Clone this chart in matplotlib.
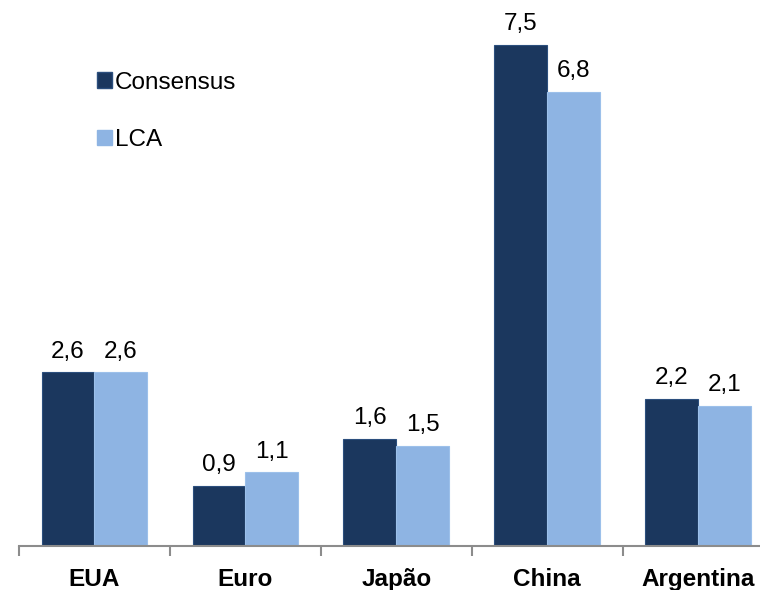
import numpy as np
import matplotlib
matplotlib.use("Agg")
import matplotlib.pyplot as plt
from matplotlib.patches import Patch

plt.rcParams["font.family"] = ["Liberation Sans", "DejaVu Sans"]

# Categories and the two series
categories = ["EUA", "Euro", "Japão", "China", "Argentina"]
consensus = [2.6, 0.9, 1.6, 7.5, 2.2]
lca = [2.6, 1.1, 1.5, 6.8, 2.1]
series_names = ["Consensus", "LCA"]

DARK = "#1b375e"
LIGHT = "#8eb4e3"
FS = 17.5

fig = plt.figure(figsize=(7.6, 5.9), dpi=100)
ax = fig.add_axes([19 / 760, 44 / 590, 1 - 19 / 760, 546 / 590])

x = np.arange(len(categories))
w = 0.35

ax.bar(x - w / 2, consensus, w, color=DARK, edgecolor="#2c4f7e", linewidth=0.8)
ax.bar(x + w / 2, lca, w, color=LIGHT, edgecolor="#9cc0ea", linewidth=0.8)

# value labels with comma decimal
for xi, v in zip(x - w / 2, consensus):
    ax.annotate(f"{v:.1f}".replace(".", ","), (xi, v), xytext=(0, 7),
                textcoords="offset points", ha="center", va="bottom", fontsize=FS)
for xi, v in zip(x + w / 2, lca):
    ax.annotate(f"{v:.1f}".replace(".", ","), (xi, v), xytext=(0, 7),
                textcoords="offset points", ha="center", va="bottom", fontsize=FS)

for s in ["top", "right", "left"]:
    ax.spines[s].set_visible(False)
ax.spines["bottom"].set_color("#8c8c8c")
ax.spines["bottom"].set_linewidth(1.5)

ax.set_yticks([])
# group boundary ticks (the last one falls outside the picture)
ax.set_xticks(np.arange(-0.5, 4.0, 1.0), minor=False)
ax.set_xticklabels([])
ax.tick_params(axis="x", which="major", length=7, width=1.5, color="#8c8c8c", direction="out")
ax.set_xticks(x, minor=True)
ax.set_xticklabels(categories, minor=True, fontsize=FS, fontweight="bold")
ax.tick_params(axis="x", which="minor", length=0, pad=16)

ax.set_xlim(-0.5, 4.41)
ax.set_ylim(0, 8.17)

handles = [Patch(facecolor=DARK, edgecolor="#2c4f7e"), Patch(facecolor=LIGHT, edgecolor=LIGHT)]
fig.legend(handles, series_names, loc="upper left", bbox_to_anchor=(87 / 760, 1 - 62 / 590),
           frameon=False, fontsize=FS, handlelength=0.62, handleheight=0.62,
           handletextpad=0.12, labelspacing=1.45, borderaxespad=0)

fig.savefig("out.png", dpi=100)
